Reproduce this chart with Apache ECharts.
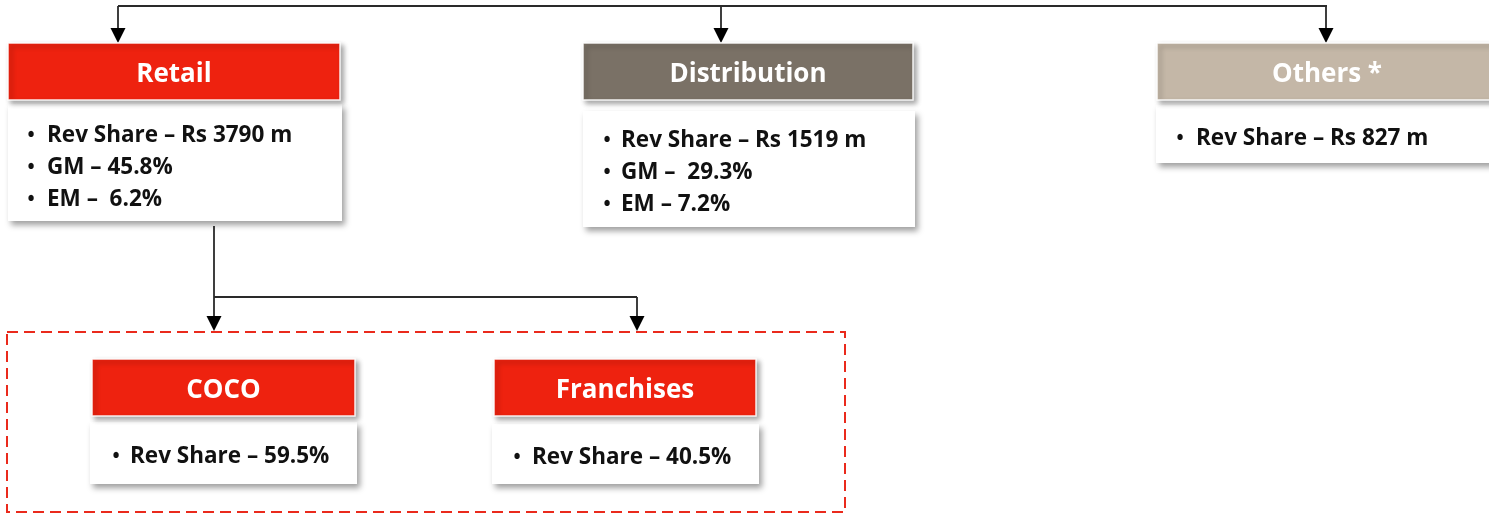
<!DOCTYPE html>
<html>
<head>
<meta charset="utf-8">
<script src="https://cdn.jsdelivr.net/npm/echarts@6/dist/echarts.min.js"></script>
<style>
  html, body { margin: 0; padding: 0; background: #ffffff; }
  #chart { width: 1489px; height: 516px; }
</style>
</head>
<body>
<div id="chart"></div>
<script>
// business segments (revenue in Rs m, margins in %)
const segments = ['Retail', 'Distribution', 'Others *'];
const segmentRevenue = [3790, 1519, 827];
const segmentGM = [45.8, 29.3, null];
const segmentEM = [6.2, 7.2, null];

// retail channels (share of retail revenue, %)
const channels = ['COCO', 'Franchises'];
const channelShare = [59.5, 40.5];

// spacing quirks of the original slide after the dash
const gmGap = [' ', '  ', ' '];
const emGap = ['  ', ' ', ' '];

const FONT = '"Open Sans", "Noto Sans", sans-serif';

function segmentLines(i) {
  const out = ['Rev Share – Rs ' + segmentRevenue[i] + ' m'];
  if (segmentGM[i] != null) out.push('GM –' + gmGap[i] + segmentGM[i].toFixed(1) + '%');
  if (segmentEM[i] != null) out.push('EM –' + emGap[i] + segmentEM[i].toFixed(1) + '%');
  return out;
}

// box layout (pixels on a 1489 x 516 canvas)
const nodeLayout = [
  { head: [8, 43, 332, 57], body: [8, 104, 334, 117], bulletX: 31, textX: 47, lineY: [136, 168, 200], color: '#ee220f' },
  { head: [583, 43, 330, 57], body: [583, 111, 332, 116], bulletX: 607, textX: 621, lineY: [141, 173, 205], color: '#7a7166' },
  { head: [1157, 43, 340, 57], body: [1156, 105, 340, 58], bulletX: 1180, textX: 1196, lineY: [139], color: '#c4b7a7' },
  { head: [92, 359, 263, 57], body: [90, 422, 267, 62], bulletX: 116, textX: 130, lineY: [457], color: '#ee220f' },
  { head: [494, 359, 262, 57], body: [492, 424, 267, 60], bulletX: 517, textX: 532, lineY: [458], color: '#ee220f' }
];

const nodeTitles = segments.concat(channels);
const nodeLines = segments.map((s, i) => segmentLines(i))
  .concat(channelShare.map(v => ['Rev Share – ' + v.toFixed(1) + '%']));

// connectors: [x1, y1, x2, y2, arrow]
const connectors = [
  [118, 6, 1327, 6, 0],
  [118, 6, 118, 43, 1],
  [721, 6, 721, 43, 1],
  [1326, 6, 1326, 43, 1],
  [214, 226, 214, 331, 1],
  [214, 297, 637, 297, 0],
  [637, 297, 637, 331, 1]
];

const dashedFrame = [7, 332, 838, 180];

function rectFromLayout(api, r) {
  const p1 = api.coord([r[0], r[1]]);
  const p2 = api.coord([r[0] + r[2], r[1] + r[3]]);
  return {
    x: Math.min(p1[0], p2[0]), y: Math.min(p1[1], p2[1]),
    width: Math.abs(p2[0] - p1[0]), height: Math.abs(p2[1] - p1[1])
  };
}

function renderNode(params, api) {
  const i = params.dataIndex;
  const L = nodeLayout[i];
  const head = rectFromLayout(api, L.head);
  const body = rectFromLayout(api, L.body);
  const children = [
    {
      type: 'rect', shape: body,
      style: { fill: '#ffffff', shadowBlur: 6, shadowOffsetX: 3, shadowOffsetY: 4, shadowColor: 'rgba(0,0,0,0.38)' }
    },
    {
      type: 'rect', shape: head,
      style: { fill: L.color, stroke: 'rgba(255,255,255,0.9)', lineWidth: 1.5, shadowBlur: 5, shadowOffsetX: 3, shadowOffsetY: 3, shadowColor: 'rgba(0,0,0,0.35)' }
    },
    {
      type: 'text',
      style: {
        x: head.x + head.width / 2, y: head.y + head.height / 2 + 3,
        text: nodeTitles[i], fill: '#ffffff', font: 'bold 26px ' + FONT,
        align: 'center', verticalAlign: 'middle'
      }
    }
  ];
  nodeLines[i].forEach((line, k) => {
    const b = api.coord([L.bulletX, L.lineY[k]]);
    const t = api.coord([L.textX, L.lineY[k]]);
    children.push({
      type: 'text',
      style: { x: b[0], y: b[1], text: '•', fill: '#111111', font: 'bold 19px ' + FONT, align: 'center', verticalAlign: 'middle' }
    });
    children.push({
      type: 'text',
      style: { x: t[0], y: t[1], text: line, fill: '#111111', font: 'bold 22.5px ' + FONT, align: 'left', verticalAlign: 'middle' }
    });
  });
  return { type: 'group', children: children };
}

function renderConnector(params, api) {
  const c = connectors[params.dataIndex];
  const p1 = api.coord([c[0], c[1]]);
  const p2 = api.coord([c[2], c[3]]);
  const children = [];
  const ah = 15, aw = 7.5;
  const endY = c[4] ? p2[1] - ah + 1 : p2[1];
  children.push({
    type: 'line',
    shape: { x1: p1[0], y1: p1[1], x2: p2[0], y2: endY },
    style: { stroke: '#2a2a2a', lineWidth: 1.8 }
  });
  if (c[4]) {
    children.push({
      type: 'polygon',
      shape: { points: [[p2[0] - aw, p2[1] - ah], [p2[0] + aw, p2[1] - ah], [p2[0], p2[1]]] },
      style: { fill: '#000000' }
    });
  }
  return { type: 'group', children: children };
}

function renderFrame(params, api) {
  return {
    type: 'rect',
    shape: rectFromLayout(api, dashedFrame),
    style: { fill: 'none', stroke: '#ea2a1c', lineWidth: 2, lineDash: [11, 6] }
  };
}

const chart = echarts.init(document.getElementById('chart'), null, { renderer: 'canvas' });
chart.setOption({
  animation: false,
  backgroundColor: '#ffffff',
  grid: { left: 0, right: 0, top: 0, bottom: 0 },
  xAxis: { type: 'value', min: 0, max: 1489, show: false },
  yAxis: { type: 'value', min: 0, max: 516, inverse: true, show: false },
  series: [
    {
      type: 'custom', name: 'frame', renderItem: renderFrame,
      data: [0], silent: true, clip: false, z: 1
    },
    {
      type: 'custom', name: 'connectors', renderItem: renderConnector,
      data: connectors.map((c, i) => i), silent: true, clip: false, z: 2
    },
    {
      type: 'custom', name: 'nodes', renderItem: renderNode,
      data: nodeTitles.map((n, i) => i), silent: true, clip: false, z: 3
    }
  ]
});
</script>
</body>
</html>
